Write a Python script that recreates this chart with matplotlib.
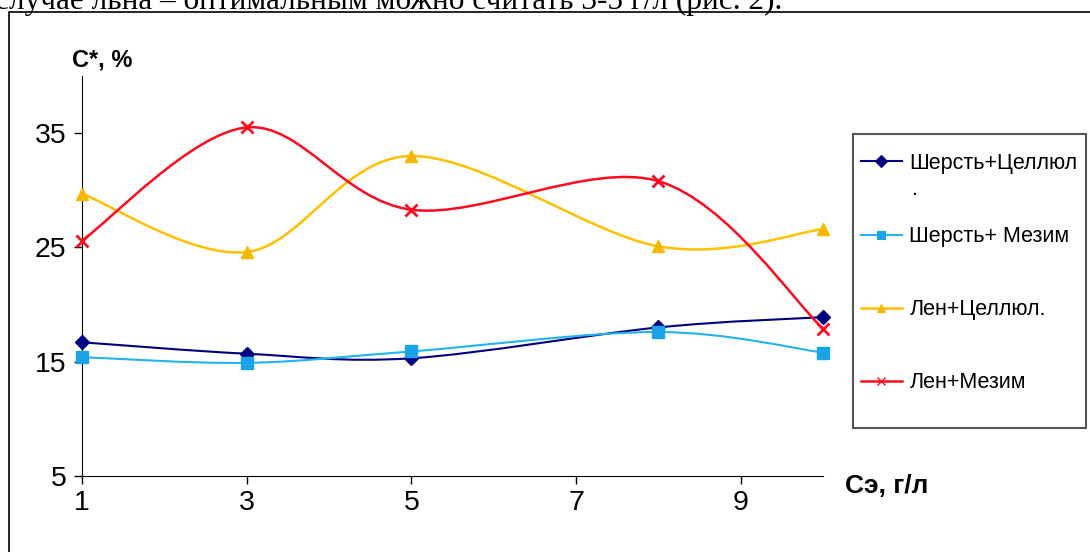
import numpy as np
import matplotlib.pyplot as plt
from matplotlib.path import Path
from matplotlib.patches import PathPatch, Rectangle
from matplotlib.lines import Line2D

plt.rcParams["font.family"] = ["Liberation Sans", "DejaVu Sans"]

# data
conc = [1, 3, 5, 8, 10]  # Cэ, г/л
wool_cell = [16.7, 15.7, 15.3, 18.0, 18.9]
wool_mez = [15.4, 14.9, 15.9, 17.6, 15.8]
flax_cell = [29.7, 24.6, 33.0, 25.1, 26.6]
flax_mez = [25.6, 35.5, 28.3, 30.8, 17.9]

series_names = ["Шерсть+Целлюл", "Шерсть+ Мезим", "Лен+Целлюл.", "Лен+Мезим"]
x_ticks = [1, 3, 5, 7, 9]
y_ticks = [5, 15, 25, 35]


def smooth_path(x, y):
    # excel-like smoothed line: catmull-rom segments as cubic beziers
    p = np.column_stack([x, y]).astype(float)
    pts = np.vstack([p[0], p, p[-1]])
    verts = [p[0]]
    codes = [Path.MOVETO]
    for i in range(1, len(pts) - 2):
        c1 = pts[i] + (pts[i + 1] - pts[i - 1]) / 6
        c2 = pts[i + 1] - (pts[i + 2] - pts[i]) / 6
        verts += [c1, c2, pts[i + 1]]
        codes += [Path.CURVE4] * 3
    return Path(verts, codes)


fig = plt.figure(figsize=(10.9, 5.52), dpi=100)

# text line of the page, cut off at the top
fig.text(-0.005, 0.983, "случае льна – оптимальным можно считать 3-5 г/л (рис. 2).",
         family=["Liberation Serif"], fontsize=22.5, va="baseline", ha="left")

# outer frame of the picture
fig.add_artist(Rectangle((9 / 1090, -0.1), 1.2, 0.1 + 1 - 12 / 552, transform=fig.transFigure,
                         fill=False, edgecolor="black", linewidth=1.2))

ax = fig.add_axes([82 / 1090, 1 - 476 / 552, (823 - 82) / 1090, (476 - 76) / 552])
ax.set_xlim(1, 10)
ax.set_ylim(5, 40)
ax.patch.set_alpha(0)
ax.spines[["top", "right"]].set_visible(False)
ax.set_xticks(x_ticks)
ax.set_yticks(y_ticks)
ax.tick_params(axis="both", direction="out", length=6, width=1, labelsize=20.5)
ax.tick_params(axis="x", pad=4)
ax.tick_params(axis="y", pad=5)

styles = [
    (wool_cell, "#000080", "#000080", "D", 7.5, 1.5),
    (wool_mez, "#22B4EC", "#1AA3E6", "s", 8, 1.5),
    (flax_cell, "#FFC000", "#F5B800", "^", 8, 1.8),
    (flax_mez, "#FF0A1E", "#FF0A1E", "x", 8, 1.8),
]
handles = []
for (vals, lc, mc, mk, ms, lw), name in zip(styles, series_names):
    ax.add_patch(PathPatch(smooth_path(conc, vals), facecolor="none", edgecolor=lc,
                           linewidth=lw, clip_on=False))
    ax.plot(conc, vals, linestyle="none", marker=mk, markersize=ms, color=mc,
            markeredgewidth=2 if mk == "x" else 1, clip_on=False, zorder=3)
    handles.append(Line2D([], [], color=lc, linewidth=lw, marker=mk, markersize=ms * 0.8,
                          markerfacecolor=mc, markeredgecolor=mc,
                          markeredgewidth=1 if mk == "x" else 0.8))

fig.text(72 / 1090, 1 - 67 / 552, "C*, %", fontsize=17, fontweight="bold", va="baseline")
fig.text(845 / 1090, 1 - 493 / 552, "Cэ, г/л", fontsize=19, fontweight="bold", va="baseline")

# legend frame drawn separately
fig.add_artist(Rectangle((853 / 1090, 1 - 428 / 552), (1086 - 853) / 1090, (428 - 134) / 552,
                         transform=fig.transFigure, fill=False, edgecolor="#555555",
                         linewidth=1.5))
leg = fig.legend(handles, series_names, loc="upper left",
                 bbox_to_anchor=(861 / 1090, 1 - 153 / 552), fontsize=15.5,
                 frameon=False, handlelength=1.9, handletextpad=0.35,
                 labelspacing=2.42, borderpad=0, borderaxespad=0)
fig.text(912 / 1090, 1 - 195 / 552, ".", fontsize=15.5)

fig.savefig("out.png", dpi=100)
